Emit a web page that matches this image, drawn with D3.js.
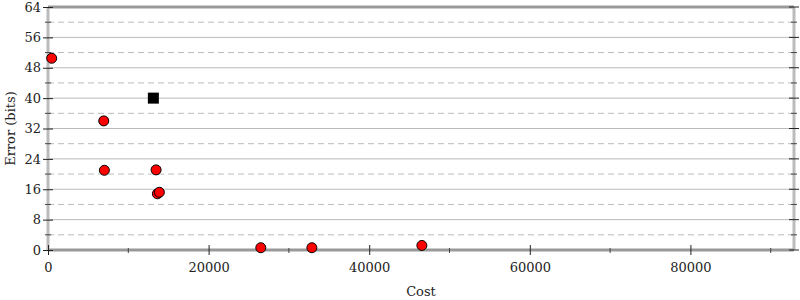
<!DOCTYPE html>
<html>
<head>
<meta charset="utf-8">
<script src="https://cdn.jsdelivr.net/npm/d3@7"></script>
<style>
  body { margin: 0; background: #fff; }
  text { font-family: "DejaVu Serif", serif; font-size: 13px; fill: #222; }
</style>
</head>
<body>
<script>
// data
var pointCost  = [460, 6940, 7020, 13460, 13620, 13870, 26500, 32860, 46560];
var pointError = [50.5, 34.0, 21.0, 21.1, 14.8, 15.2, 0.6, 0.6, 1.2];
var markCost  = [13120];
var markError = [40];
var xTicks = [0, 20000, 40000, 60000, 80000];
var yTicks = [0, 8, 16, 24, 32, 40, 48, 56, 64];

function main() {
    var width = 800, height = 300;
    var margin = {left: 48, right: 6, top: 7, bottom: 50};

    var svg = d3.select("body").append("svg")
        .attr("width", width)
        .attr("height", height);

    var x = d3.scaleLinear().domain([0, 92900]).range([margin.left, width - margin.right]);
    var y = d3.scaleLinear().domain([0, 64]).range([height - margin.bottom, margin.top]);

    var x0 = x.range()[0], x1 = x.range()[1];
    var y0 = y.range()[0], y1 = y.range()[1];

    // grid: solid on majors, dashed on minors
    var yMinor = d3.range(4, 64, 8);
    svg.append("g").selectAll("line").data(yTicks.slice(1, -1)).join("line")
        .attr("x1", x0).attr("x2", x1)
        .attr("y1", d => y(d)).attr("y2", d => y(d))
        .attr("stroke", "#bbb").attr("stroke-width", 1);
    svg.append("g").selectAll("line").data(yMinor).join("line")
        .attr("x1", x0).attr("x2", x1)
        .attr("y1", d => y(d)).attr("y2", d => y(d))
        .attr("stroke", "#bbb").attr("stroke-width", 1)
        .attr("stroke-dasharray", "6,4");

    // frame
    svg.append("line").attr("x1", x0).attr("x2", x0).attr("y1", y1).attr("y2", y0)
        .attr("stroke", "#bbb").attr("stroke-width", 3);
    svg.append("line").attr("x1", x1).attr("x2", x1).attr("y1", y1).attr("y2", y0)
        .attr("stroke", "#bbb").attr("stroke-width", 3);
    svg.append("line").attr("x1", x0).attr("x2", x1).attr("y1", y1).attr("y2", y1)
        .attr("stroke", "#999").attr("stroke-width", 3);
    svg.append("line").attr("x1", x0).attr("x2", x1).attr("y1", y0).attr("y2", y0)
        .attr("stroke", "#999").attr("stroke-width", 3);

    // left axis
    var yAxis = d3.axisLeft(y).tickValues(yTicks).tickSize(5).tickPadding(4);
    var gy = svg.append("g").attr("transform", "translate(" + x0 + ",0)").call(yAxis);
    gy.select(".domain").remove();
    gy.selectAll(".tick line").attr("x2", 5).attr("x1", -5).attr("stroke", "#222");
    gy.selectAll("text").attr("x", -7).style("font-size", "13px").attr("font-family", null);

    // minor ticks left & right
    [x0, x1].forEach(function (xp) {
        svg.append("g").selectAll("line").data(yMinor).join("line")
            .attr("x1", xp - 3).attr("x2", xp + 3)
            .attr("y1", d => y(d)).attr("y2", d => y(d))
            .attr("stroke", "#444");
    });
    svg.append("g").selectAll("line").data(yTicks).join("line")
        .attr("x1", x1 - 5).attr("x2", x1 + 5)
        .attr("y1", d => y(d)).attr("y2", d => y(d))
        .attr("stroke", "#222");

    // bottom axis
    var xAxis = d3.axisBottom(x).tickValues(xTicks).tickFormat(d3.format("d")).tickSize(5).tickPadding(8);
    var gx = svg.append("g").attr("transform", "translate(0," + y0 + ")").call(xAxis);
    gx.select(".domain").remove();
    gx.selectAll(".tick line").attr("y1", -5).attr("y2", 5).attr("stroke", "#222");
    gx.selectAll("text").style("font-size", "13px").attr("font-family", null);
    svg.append("g").selectAll("line").data(d3.range(10000, 92900, 20000)).join("line")
        .attr("x1", d => x(d)).attr("x2", d => x(d))
        .attr("y1", y0 - 2).attr("y2", y0 + 3)
        .attr("stroke", "#444");

    // titles
    svg.append("text").attr("x", (x0 + x1) / 2).attr("y", 296)
        .attr("text-anchor", "middle").text("Cost");
    svg.append("text")
        .attr("transform", "translate(15," + ((y0 + y1) / 2) + ") rotate(-90)")
        .attr("text-anchor", "middle").text("Error (bits)");

    // points
    var pts = pointCost.map((c, i) => ({c: c, e: pointError[i]}));
    svg.append("g").selectAll("circle").data(pts).join("circle")
        .attr("cx", d => x(d.c)).attr("cy", d => y(d.e)).attr("r", 5)
        .attr("fill", "#f00").attr("stroke", "#000").attr("stroke-width", 1);

    var sq = markCost.map((c, i) => ({c: c, e: markError[i]}));
    svg.append("g").selectAll("rect").data(sq).join("rect")
        .attr("x", d => x(d.c) - 5.5).attr("y", d => y(d.e) - 5.5)
        .attr("width", 11).attr("height", 11).attr("fill", "#000");
}

window.onload = main;
</script>
</body>
</html>
